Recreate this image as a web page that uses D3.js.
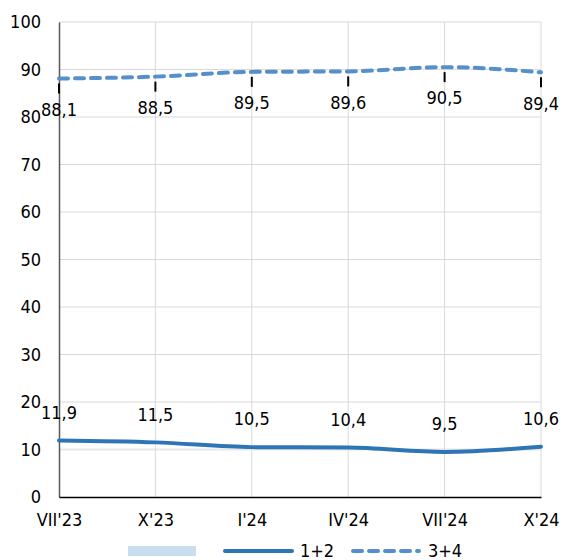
<!DOCTYPE html>
<html><head><meta charset="utf-8">
<script src="https://cdn.jsdelivr.net/npm/d3@7"></script>
<style>body{margin:0;background:#fff}svg{display:block}text{font-family:"DejaVu Sans Condensed","DejaVu Sans",Tahoma,sans-serif;font-stretch:condensed}</style>
</head><body><svg id="c" width="563" height="560"></svg>
<script>
const categories = ["VII'23","X'23","I'24","IV'24","VII'24","X'24"];
const series12 = [11.9,11.5,10.5,10.4,9.5,10.6];
const series34 = [88.1,88.5,89.5,89.6,90.5,89.4];
const labels12 = ["11,9","11,5","10,5","10,4","9,5","10,6"];
const labels34 = ["88,1","88,5","89,5","89,6","90,5","89,4"];
const yTicks = [0,10,20,30,40,50,60,70,80,90,100];
const legendNames = ["","1+2","3+4"];

const svg = d3.select("#c");
const L=59,R=541,T=22,B=497;
const x = d3.scalePoint().domain(categories).range([L,R]);
const y = d3.scaleLinear().domain([0,100]).range([B,T]);
const c12="#2E75B6", c34="#5590CC";
const fs=18;
const FF='"DejaVu Sans Condensed","DejaVu Sans",sans-serif';

// gridlines
svg.append("g").selectAll("line").data(yTicks.filter(d=>d>0)).join("line")
 .attr("x1",L).attr("x2",R).attr("y1",d=>y(d)).attr("y2",d=>y(d))
 .attr("stroke",d=>d===10?"#e8e8e8":"#d9d9d9").attr("stroke-width",d=>d===10?2:1);
svg.append("g").selectAll("line").data(categories.slice(1)).join("line")
 .attr("x1",d=>x(d)).attr("x2",d=>x(d)).attr("y1",T).attr("y2",B)
 .attr("stroke","#d9d9d9").attr("stroke-width",1);

// y axis
const ya = svg.append("g").attr("transform",`translate(${L},0)`)
 .call(d3.axisLeft(y).tickValues(yTicks).tickSize(0).tickPadding(18));
ya.select(".domain").attr("stroke","#595959").attr("stroke-width",1.5);
ya.selectAll("text").attr("font-size",fs).attr("fill","#000").attr("font-family",FF);

// x axis
const xa = svg.append("g").attr("transform",`translate(0,${B})`)
 .call(d3.axisBottom(x).tickSize(0).tickPadding(16));
xa.select(".domain").attr("stroke","#000").attr("stroke-width",1.5);
xa.selectAll("text").attr("font-size",fs).attr("fill","#000").attr("font-family",FF);

const line = d3.line().x((d,i)=>x(categories[i])).y(d=>y(d)).curve(d3.curveMonotoneX);

svg.append("path").datum(series12).attr("d",line).attr("fill","none")
 .attr("stroke",c12).attr("stroke-width",4).attr("stroke-linecap","round");
svg.append("path").datum(series34).attr("d",line).attr("fill","none")
 .attr("stroke",c34).attr("stroke-width",4).attr("stroke-linecap","round")
 .attr("stroke-dasharray","9,7");

// leader lines for 3+4
svg.append("g").selectAll("line").data(series34).join("line")
 .attr("x1",(d,i)=>x(categories[i])).attr("x2",(d,i)=>x(categories[i]))
 .attr("y1",d=>y(d)+5).attr("y2",d=>y(d)+15).attr("stroke","#000").attr("stroke-width",2);

svg.append("g").selectAll("text").data(series34).join("text")
 .attr("x",(d,i)=>x(categories[i])).attr("y",d=>y(d)+31).attr("dy","0.35em")
 .attr("text-anchor","middle").attr("font-size",fs).text((d,i)=>labels34[i]);

svg.append("g").selectAll("text").data(series12).join("text")
 .attr("x",(d,i)=>x(categories[i])).attr("y",d=>y(d)-28).attr("dy","0.35em")
 .attr("text-anchor","middle").attr("font-size",fs).text((d,i)=>labels12[i]);

// legend
const lg = svg.append("g");
lg.append("rect").attr("x",128).attr("y",546).attr("width",68).attr("height",10).attr("fill","#C9DDF0");
lg.append("line").attr("x1",225).attr("x2",292).attr("y1",551).attr("y2",551)
 .attr("stroke",c12).attr("stroke-width",4).attr("stroke-linecap","round");
lg.append("text").attr("x",300).attr("y",551).attr("dy","0.35em").attr("font-size",fs).text(legendNames[1]);
lg.append("line").attr("x1",353).attr("x2",419).attr("y1",551).attr("y2",551)
 .attr("stroke",c34).attr("stroke-width",4).attr("stroke-linecap","round").attr("stroke-dasharray","9,7");
lg.append("text").attr("x",428).attr("y",551).attr("dy","0.35em").attr("font-size",fs).text(legendNames[2]);
</script></body></html>
